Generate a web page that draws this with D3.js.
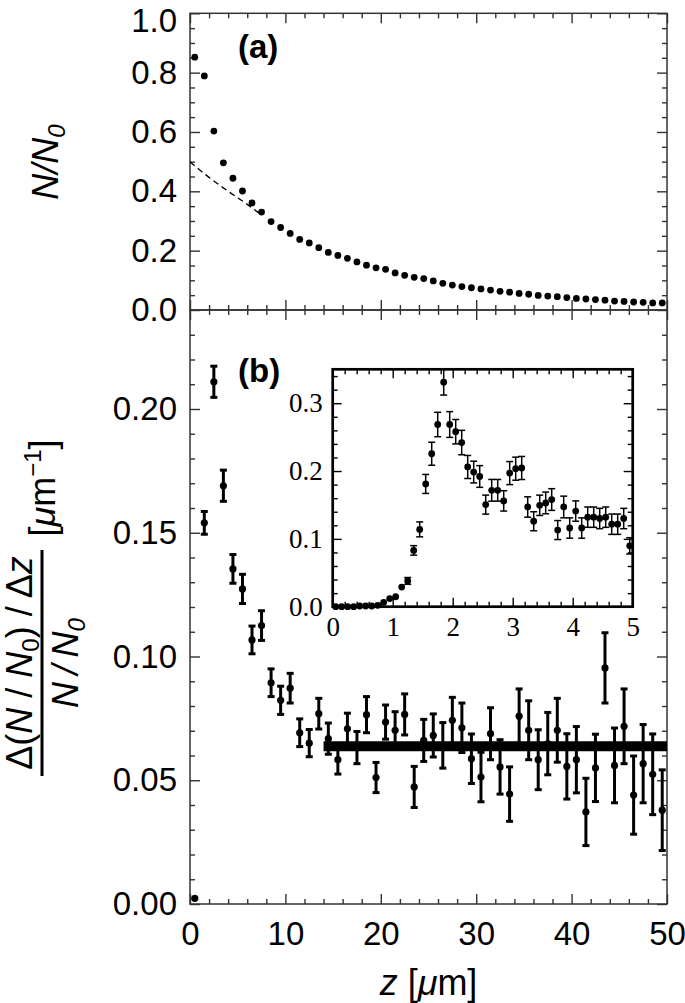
<!DOCTYPE html>
<html><head><meta charset="utf-8">
<script src="https://cdn.jsdelivr.net/npm/d3@7/dist/d3.min.js"></script>
<style>
html,body{margin:0;padding:0;background:#fff;}
svg{display:block;}
.ax text{font-family:"Liberation Sans",Arial,sans-serif;font-size:33px;fill:#000;}
.ax path{display:none;}
.ax line{stroke:#333;stroke-width:1.4;}
.inax text{font-family:"Liberation Serif","Times New Roman",serif;font-size:27px;fill:#000;}
.inax path{display:none;}
.inax line{stroke:#000;stroke-width:1.4;}
</style></head>
<body>
<script>
// ---------- data ----------
const zA = [0.5,1.5,2.5,3.5,4.5,5.5,6.5,7.5,8.5,9.5,10.5,11.5,12.5,13.5,14.5,15.5,16.5,17.5,18.5,19.5,20.5,21.5,22.5,23.5,24.5,25.5,26.5,27.5,28.5,29.5,30.5,31.5,32.5,33.5,34.5,35.5,36.5,37.5,38.5,39.5,40.5,41.5,42.5,43.5,44.5,45.5,46.5,47.5,48.5,49.5];
const nA = [0.852,0.789,0.603,0.496,0.444,0.401,0.361,0.330,0.298,0.278,0.258,0.238,0.226,0.210,0.194,0.184,0.174,0.162,0.151,0.142,0.137,0.125,0.117,0.110,0.106,0.098,0.090,0.084,0.079,0.075,0.071,0.067,0.063,0.060,0.056,0.053,0.049,0.047,0.045,0.042,0.039,0.037,0.035,0.033,0.030,0.029,0.027,0.026,0.024,0.024];
const fitAz = [0, 2, 4, 6, 7.5];
const fitAn = [0.499, 0.447, 0.400, 0.356, 0.320];

const zB = zA;
const dB = [0.0023,0.154,0.211,0.169,0.1354,0.1273,0.1067,0.1125,0.0894,0.0823,0.0872,0.0692,0.065,0.0769,0.0668,0.0583,0.0708,0.0632,0.0765,0.0511,0.0735,0.0702,0.0766,0.0473,0.0661,0.0681,0.0641,0.0742,0.0712,0.0587,0.0513,0.0688,0.0554,0.0444,0.0759,0.0702,0.0583,0.0648,0.0702,0.0556,0.0583,0.0372,0.055,0.0954,0.056,0.0718,0.044,0.0567,0.0524,0.0379];
const dBerr = [0,0.0046,0.0063,0.0063,0.0058,0.0059,0.0056,0.006,0.0056,0.0057,0.006,0.0056,0.0055,0.0062,0.0063,0.0058,0.0063,0.0065,0.0073,0.0061,0.0069,0.0075,0.0083,0.0083,0.0085,0.0087,0.0092,0.0093,0.01,0.01,0.01,0.0105,0.011,0.011,0.011,0.0119,0.0121,0.0126,0.0129,0.0132,0.0134,0.0136,0.0136,0.0142,0.0151,0.0151,0.0158,0.0158,0.0163,0.0163];
const fitBz = [14.0, 50];
const fitBv = [0.0637, 0.0637];

const zIn = [0.05,0.15,0.25,0.35,0.45,0.55,0.65,0.75,0.85,0.95,1.05,1.15,1.25,1.35,1.45,1.55,1.65,1.75,1.85,1.95,2.05,2.15,2.25,2.35,2.45,2.55,2.65,2.75,2.85,2.95,3.05,3.15,3.25,3.35,3.45,3.55,3.65,3.75,3.85,3.95,4.05,4.15,4.25,4.35,4.45,4.55,4.65,4.75,4.85,4.95];
const dIn = [0.000,0.000,0.000,0.000,0.001,0.001,0.001,0.002,0.0064,0.012,0.0147,0.029,0.038,0.083,0.114,0.181,0.2255,0.2686,0.331,0.2686,0.258,0.242,0.206,0.1985,0.192,0.1505,0.1716,0.1716,0.156,0.197,0.2035,0.2045,0.147,0.126,0.1495,0.153,0.158,0.113,0.147,0.116,0.141,0.116,0.132,0.132,0.130,0.132,0.1216,0.1216,0.130,0.0897];
const dInErr = [0,0,0,0,0,0,0,0,0.002,0.003,0.003,0.004,0.005,0.007,0.011,0.014,0.017,0.018,0.019,0.019,0.018,0.018,0.017,0.016,0.016,0.014,0.016,0.016,0.015,0.017,0.017,0.017,0.015,0.014,0.015,0.016,0.016,0.014,0.016,0.015,0.015,0.015,0.015,0.015,0.015,0.015,0.015,0.015,0.015,0.012];

const xTicks = [0,10,20,30,40,50];
const xMinor = [2,4,6,8,12,14,16,18,22,24,26,28,32,34,36,38,42,44,46,48];
const yATicks = [0,0.2,0.4,0.6,0.8,1.0];
const yAMinor = [0.05,0.1,0.15,0.25,0.3,0.35,0.45,0.5,0.55,0.65,0.7,0.75,0.85,0.9,0.95];
const yBTicks = [0,0.05,0.10,0.15,0.20];
const yBMinor = [0.01,0.02,0.03,0.04,0.06,0.07,0.08,0.09,0.11,0.12,0.13,0.14,0.16,0.17,0.18,0.19,0.21,0.22,0.23];
const inXTicks = [0,1,2,3,4,5];
const inXMinor = [0.2,0.4,0.6,0.8,1.2,1.4,1.6,1.8,2.2,2.4,2.6,2.8,3.2,3.4,3.6,3.8,4.2,4.4,4.6,4.8];
const inYTicks = [0,0.1,0.2,0.3];
const inYMinor = [0.02,0.04,0.06,0.08,0.12,0.14,0.16,0.18,0.22,0.24,0.26,0.28,0.32,0.34];

// ---------- layout ----------
const W = 685, H = 1003;
const L = 190, R = 667;
const aTop = 13.3, mid = 310, bBot = 904;
const inL = 332.7, inR = 632.7, inT = 369.3, inB = 606.7;

const svg = d3.select("body").append("svg").attr("width", W).attr("height", H);

const x = d3.scaleLinear().domain([0,50]).range([L,R]);
const yA = d3.scaleLinear().domain([0,1]).range([mid,aTop]);
const yB = d3.scaleLinear().domain([0,0.24]).range([bBot,mid]);
const xi = d3.scaleLinear().domain([0,5]).range([inL,inR]);
const yi = d3.scaleLinear().domain([0,0.35]).range([inB,inT]);

function axes(g, cls, xs, ys, top, bot, left, right, xt, xm, yt, ym, yfmt, showX, xfmt, pad, maj, mn) {
  g.append("g").attr("class",cls).attr("transform",`translate(0,${bot})`)
    .call(d3.axisBottom(xs).tickValues(xt).tickSize(-maj).tickPadding(pad.x).tickFormat(showX ? xfmt : ""));
  g.append("g").attr("class",cls).attr("transform",`translate(0,${bot})`)
    .call(d3.axisBottom(xs).tickValues(xm).tickSize(-mn).tickFormat(""));
  g.append("g").attr("class",cls).attr("transform",`translate(0,${top})`)
    .call(d3.axisTop(xs).tickValues(xt).tickSize(-maj).tickFormat(""));
  g.append("g").attr("class",cls).attr("transform",`translate(0,${top})`)
    .call(d3.axisTop(xs).tickValues(xm).tickSize(-mn).tickFormat(""));
  const ly = g.append("g").attr("class",cls).attr("transform",`translate(${left},0)`)
    .call(d3.axisLeft(ys).tickValues(yt).tickSize(-maj).tickPadding(pad.y).tickFormat(yfmt));
  g.append("g").attr("class",cls).attr("transform",`translate(${left},0)`)
    .call(d3.axisLeft(ys).tickValues(ym).tickSize(-mn).tickFormat(""));
  g.append("g").attr("class",cls).attr("transform",`translate(${right},0)`)
    .call(d3.axisRight(ys).tickValues(yt).tickSize(-maj).tickFormat(""));
  g.append("g").attr("class",cls).attr("transform",`translate(${right},0)`)
    .call(d3.axisRight(ys).tickValues(ym).tickSize(-mn).tickFormat(""));
  return ly;
}

// Panel a
const gA = svg.append("g");
const lyA = axes(gA, "ax", x, yA, aTop, mid, L, R, xTicks, xMinor, yATicks, yAMinor, d3.format(".1f"), false, null, {x:10,y:13}, 10, 5);
lyA.selectAll(".tick text").filter(d => d === 1).attr("dy", "0.56em");
gA.append("rect").attr("x",L).attr("y",aTop).attr("width",R-L).attr("height",mid-aTop)
  .attr("fill","none").attr("stroke","#333").attr("stroke-width",1.5);

gA.append("path").datum(fitAz.map((z,i)=>[z,fitAn[i]]))
  .attr("d", d3.line().x(d=>x(d[0])).y(d=>yA(d[1])).curve(d3.curveMonotoneX))
  .attr("fill","none").attr("stroke","#000").attr("stroke-width",1.3).attr("stroke-dasharray","6,4");
gA.selectAll("circle.pa").data(zA.map((z,i)=>[z,nA[i]])).join("circle")
  .attr("cx",d=>x(d[0])).attr("cy",d=>yA(d[1])).attr("r",3.4).attr("fill","#000");

gA.append("text").attr("x",238).attr("y",58)
  .attr("font-family","Liberation Sans, Arial, sans-serif").attr("font-weight","bold").attr("font-size",33)
  .text("(a)");

// Panel b
const gB = svg.append("g");
axes(gB, "ax", x, yB, mid, bBot, L, R, xTicks, xMinor, yBTicks, yBMinor, d3.format(".2f"), true, d3.format("d"), {x:18,y:13}, 10, 5);
gB.append("rect").attr("x",L).attr("y",mid).attr("width",R-L).attr("height",bBot-mid)
  .attr("fill","none").attr("stroke","#333").attr("stroke-width",1.5);

gB.append("path").datum(fitBz.map((z,i)=>[z,fitBv[i]]))
  .attr("d", d3.line().x(d=>x(d[0])).y(d=>yB(d[1])))
  .attr("fill","none").attr("stroke","#000").attr("stroke-width",10);

const bData = zB.map((z,i)=>({z, v:dB[i], e:dBerr[i]}));
const eb = gB.selectAll("g.eb").data(bData.filter(d=>d.e>0)).join("g");
eb.append("line").attr("x1",d=>x(d.z)).attr("x2",d=>x(d.z)).attr("y1",d=>yB(d.v-d.e)).attr("y2",d=>yB(d.v+d.e))
  .attr("stroke","#000").attr("stroke-width",3);
eb.append("line").attr("x1",d=>x(d.z)-3.5).attr("x2",d=>x(d.z)+3.5).attr("y1",d=>yB(d.v-d.e)).attr("y2",d=>yB(d.v-d.e))
  .attr("stroke","#000").attr("stroke-width",3);
eb.append("line").attr("x1",d=>x(d.z)-3.5).attr("x2",d=>x(d.z)+3.5).attr("y1",d=>yB(d.v+d.e)).attr("y2",d=>yB(d.v+d.e))
  .attr("stroke","#000").attr("stroke-width",3);
gB.selectAll("circle.pb").data(bData).join("circle")
  .attr("cx",d=>x(d.z)).attr("cy",d=>yB(d.v)).attr("r",3.6).attr("fill","#000");

gB.append("text").attr("x",238).attr("y",382)
  .attr("font-family","Liberation Sans, Arial, sans-serif").attr("font-weight","bold").attr("font-size",33)
  .text("(b)");

// Inset
const gI = svg.append("g");
gI.append("rect").attr("x",inL).attr("y",inT).attr("width",inR-inL).attr("height",inB-inT).attr("fill","#fff");
axes(gI, "inax", xi, yi, inT, inB, inL, inR, inXTicks, inXMinor, inYTicks, inYMinor, d3.format(".1f"), true, d3.format("d"), {x:10,y:10}, 9, 5);
const iData = zIn.map((z,i)=>({z, v:dIn[i], e:dInErr[i]}));
const ie = gI.selectAll("g.ie").data(iData.filter(d=>d.e>0.004)).join("g");
ie.append("line").attr("x1",d=>xi(d.z)).attr("x2",d=>xi(d.z)).attr("y1",d=>yi(d.v-d.e)).attr("y2",d=>yi(d.v+d.e))
  .attr("stroke","#000").attr("stroke-width",1.5);
ie.append("line").attr("x1",d=>xi(d.z)-3.5).attr("x2",d=>xi(d.z)+3.5).attr("y1",d=>yi(d.v-d.e)).attr("y2",d=>yi(d.v-d.e))
  .attr("stroke","#000").attr("stroke-width",1.5);
ie.append("line").attr("x1",d=>xi(d.z)-3.5).attr("x2",d=>xi(d.z)+3.5).attr("y1",d=>yi(d.v+d.e)).attr("y2",d=>yi(d.v+d.e))
  .attr("stroke","#000").attr("stroke-width",1.5);
gI.selectAll("circle.pi").data(iData).join("circle")
  .attr("cx",d=>xi(d.z)).attr("cy",d=>yi(d.v)).attr("r",3.4).attr("fill","#000");
gI.append("rect").attr("x",inL).attr("y",inT).attr("width",inR-inL).attr("height",inB-inT)
  .attr("fill","none").attr("stroke","#000").attr("stroke-width",2.7);

// Axis titles
const SANS = "Liberation Sans, Arial, sans-serif";
const tA = svg.append("text").attr("transform","translate(58,162) rotate(-90)")
  .attr("text-anchor","middle").attr("font-family",SANS).attr("font-size",36).attr("font-style","italic");
tA.append("tspan").text("N/N");
tA.append("tspan").attr("font-size",24).attr("dy",7).text("0");

const tx = svg.append("text").attr("x",428.5).attr("y",995).attr("text-anchor","middle")
  .attr("font-family",SANS).attr("font-size",36);
tx.append("tspan").attr("font-style","italic").text("z");
tx.append("tspan").text(" [");
tx.append("tspan").attr("font-style","italic").text("μ");
tx.append("tspan").text("m]");

// Panel b y label: fraction
const gy = svg.append("g").attr("transform","rotate(-90)");
const cy = 663;
const num = gy.append("text").attr("x",-cy).attr("y",32).attr("text-anchor","middle")
  .attr("font-family",SANS).attr("font-size",36);
num.append("tspan").text("Δ(");
num.append("tspan").attr("font-style","italic").text("N");
num.append("tspan").text(" / ");
num.append("tspan").attr("font-style","italic").text("N");
num.append("tspan").attr("font-size",24).attr("dy",7).text("0");
num.append("tspan").attr("dy",-7).text(") / Δ");
num.append("tspan").attr("font-style","italic").text("z");
gy.append("line").attr("x1",-550).attr("x2",-776).attr("y1",42).attr("y2",42)
  .attr("stroke","#000").attr("stroke-width",3);
const den = gy.append("text").attr("x",-cy).attr("y",78).attr("text-anchor","middle")
  .attr("font-family",SANS).attr("font-size",36).attr("font-style","italic");
den.append("tspan").text("N\u2009/\u2009N");
den.append("tspan").attr("font-size",24).attr("dy",7).text("0");
const un = gy.append("text").attr("x",-488).attr("y",55).attr("text-anchor","middle")
  .attr("font-family",SANS).attr("font-size",36);
un.append("tspan").text("[");
un.append("tspan").attr("font-style","italic").text("μ");
un.append("tspan").text("m");
un.append("tspan").attr("font-size",24).attr("dy",-14).text("−1");
un.append("tspan").attr("dy",14).text("]");
</script>
</body></html>
